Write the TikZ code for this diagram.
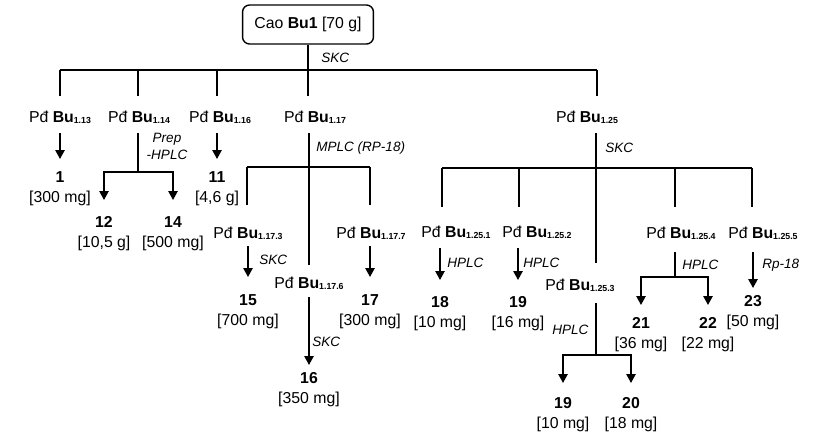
\documentclass[tikz,border=0pt]{standalone}
\usepackage{fontspec}
\setmainfont{Liberation Sans}
\usetikzlibrary{arrows.meta}
\tikzset{
  link/.style={line width=0.9pt},
  arr/.style={-{Triangle[length=5pt,width=5.2pt]}, line width=0.9pt},
  rootbox/.style={draw, line width=0.8pt, rounded corners=4pt, minimum width=74.5pt, minimum height=22.2pt, inner sep=0pt, font=\fontsize{9}{11}\selectfont},
  frac/.style={inner sep=0pt, anchor=base, font=\fontsize{9}{11}\selectfont},
  prod/.style={inner xsep=0pt, anchor=north, align=center, font=\fontsize{9}{11.4}\selectfont},
  meth/.style={inner sep=0pt, anchor=west, font=\fontsize{7.7}{9.7}\selectfont\itshape},
}
\newcommand{\frc}[1]{Pđ \textbf{Bu}\raisebox{-0.6pt}{\fontsize{5}{6}\selectfont\bfseries #1}}
\newcommand{\cmpd}[2]{\textbf{#1}\\{}[#2]}

\begin{document}
\begin{tikzpicture}[x=0.02cm, y=-0.02cm]
\useasboundingbox (0,0) rectangle (814,436);
% crude extract
\node[rootbox] (root) at (308,24.5) {Cao \textbf{Bu1} [70 g]};
\coordinate (c113) at (60,70);
\coordinate (c114) at (138,70);
\coordinate (c116) at (217,70);
\coordinate (c117) at (308,70);
\coordinate (c125) at (597,70);
\draw[link] (root) -- (c117);
\draw[link] (c113) -- (c125);
\node[meth] (m0) at (321,58) {SKC};

% first fractions
\node[frac, text height=14.8pt, text depth=6.3pt] (p113) at (60,122) {\frc{1.13}};
\node[frac, text height=14.8pt, text depth=6.3pt] (p114) at (139,122) {\frc{1.14}};
\node[frac, text height=14.8pt, text depth=6.3pt] (p116) at (220,122) {\frc{1.16}};
\node[frac, text height=14.8pt, text depth=6.3pt] (p117) at (315,122) {\frc{1.17}};
\node[frac, text height=14.8pt, text depth=6.3pt] (p125) at (587,122) {\frc{1.25}};
\foreach \c/\p in {c113/p113,c114/p114,c116/p116,c117/p117,c125/p125}
  \draw[link] (\c) -- (\c |- \p.north);

% Bu1.13, Bu1.14, Bu1.16
\node[prod, inner ysep=6.8pt] (r1) at (60,159) {\cmpd{1}{300 mg}};
\node[prod, inner ysep=6.8pt] (r11) at (217,159) {\cmpd{11}{4,6 g}};
\node[prod, inner ysep=9.1pt] (r12) at (104,200) {\cmpd{12}{10,5 g}};
\node[prod, inner ysep=9.1pt] (r14) at (173,200) {\cmpd{14}{500 mg}};
\draw[arr] (p113.south -| r1) -- (r1.north);
\draw[arr] (p116.south -| r11) -- (r11.north);
\coordinate (j114) at (138,172);
\draw[link] (p114.south -| j114) -- (j114);
\draw[arr] (j114) -| (r12.north);
\draw[arr] (j114) -| (r14.north);
\node[meth, anchor=center, align=center] (m114) at (167,146.5) {Prep\\-HPLC};

% Bu1.17
\node[frac, text height=18.8pt, text depth=4.5pt] (p1173) at (248,238) {\frc{1.17.3}};
\node[frac, text height=18.8pt, text depth=4.5pt] (p1177) at (371,238) {\frc{1.17.7}};
\node[frac, text height=13.1pt, text depth=5.1pt] (p1176) at (309,288) {\frc{1.17.6}};
\coordinate (c1173) at (247,167);
\coordinate (c1177) at (370,167);
\draw[link] (p117.south -| p1176) -- (p1176.north);
\draw[link] (c1173) -- (c1177);
\foreach \c/\p in {c1173/p1173,c1177/p1177}
  \draw[link] (\c) -- (\c |- \p.north);
\node[meth] (m117) at (316,148) {MPLC (RP-18)};
\node[prod, inner ysep=9.7pt] (r15) at (248,277) {\cmpd{15}{700 mg}};
\node[prod, inner ysep=9.7pt] (r17) at (370,277) {\cmpd{17}{300 mg}};
\node[prod, inner ysep=4pt] (r16) at (309,365) {\cmpd{16}{350 mg}};
\draw[arr] (p1173.south -| r15) -- (r15.north);
\draw[arr] (p1177.south -| r17) -- (r17.north);
\draw[arr] (p1176.south -| r16) -- (r16.north);
\node[meth] (m1173) at (259,260) {SKC};
\node[meth] (m1176) at (312,342) {SKC};

% Bu1.25
\node[frac, text height=17.1pt, text depth=6.3pt] (p1251) at (456,237) {\frc{1.25.1}};
\node[frac, text height=17.1pt, text depth=6.3pt] (p1252) at (537,237) {\frc{1.25.2}};
\node[frac, text height=17.6pt, text depth=8pt] (p1254) at (681,238) {\frc{1.25.4}};
\node[frac, text height=17.6pt, text depth=8pt] (p1255) at (763,238) {\frc{1.25.5}};
\node[frac, text height=15.4pt, text depth=7.4pt] (p1253) at (580,290) {\frc{1.25.3}};
\coordinate (c1251) at (442,168);
\coordinate (c1252) at (519,168);
\coordinate (c1253) at (596,168);
\coordinate (c1254) at (675,168);
\coordinate (c1255) at (752,168);
\draw[link] (p125.south -| c1253) -- (p1253.north -| c1253);
\draw[link] (c1251) -- (c1255);
\foreach \c/\p in {c1251/p1251,c1252/p1252,c1254/p1254,c1255/p1255}
  \draw[link] (\c) -- (\c |- \p.north);
\node[meth] (m125) at (605,148) {SKC};

\node[prod, inner ysep=9.1pt] (r18) at (440,280) {\cmpd{18}{10 mg}};
\node[prod, inner ysep=9.1pt] (r19) at (518,280) {\cmpd{19}{16 mg}};
\node[prod, inner ysep=4pt] (r23) at (753,288) {\cmpd{23}{50 mg}};
\node[prod, inner ysep=6.8pt] (r21) at (641,305) {\cmpd{21}{36 mg}};
\node[prod, inner ysep=6.8pt] (r22) at (708,305) {\cmpd{22}{22 mg}};
\node[prod, inner ysep=8pt] (r19b) at (563,383) {\cmpd{19}{10 mg}};
\node[prod, inner ysep=8pt] (r20) at (631,383) {\cmpd{20}{18 mg}};
\draw[arr] (p1251.south -| r18) -- (r18.north);
\draw[arr] (p1252.south -| r19) -- (r19.north);
\draw[arr] (p1255.south -| r23) -- (r23.north);
\node[meth] (m1251) at (447,263) {HPLC};
\node[meth] (m1252) at (523,263) {HPLC};
\node[meth] (m1255) at (762,265) {Rp-18};

\coordinate (j1254) at (675,277);
\draw[link] (p1254.south -| j1254) -- (j1254);
\draw[arr] (j1254) -| (r21.north);
\draw[arr] (j1254) -| (r22.north);
\node[meth] (m1254) at (682,265) {HPLC};

\coordinate (j1253) at (596,355);
\draw[link] (p1253.south -| j1253) -- (j1253);
\draw[arr] (j1253) -| (r19b.north);
\draw[arr] (j1253) -| (r20.north);
\node[meth] (m1253) at (552,330) {HPLC};
\end{tikzpicture}
\end{document}
